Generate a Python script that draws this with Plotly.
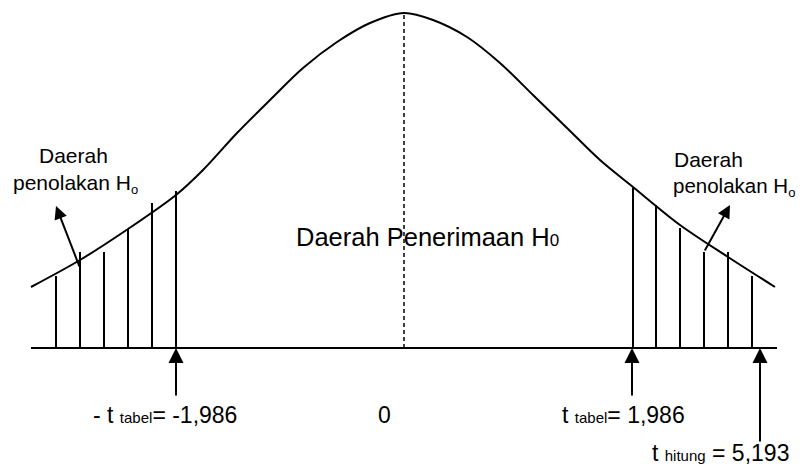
import plotly.graph_objects as go

# kurva distribusi (posisi horizontal relatif terhadap pusat, tinggi kurva)
curve_x = [-373, -324, -276, -228, -201, -167, -134, -101, -67, -34, 0,
           29, 63, 96, 129, 163, 196, 229, 276, 324, 371]
curve_h = [61, 88, 119, 153, 178, 215, 248, 280, 306, 325, 335,
           328, 311, 285, 253, 220, 188, 161, 123, 91, 61]

# garis arsir daerah penolakan
hatch_left_x = [-348, -324, -300, -276, -252, -228]
hatch_left_top = [72, 96, 96, 119, 145, 157]
hatch_right_x = [229, 252, 276, 300, 324, 348]
hatch_right_top = [160, 143, 120, 96, 96, 72]

# titik kritis dan nilai hitung
t_tabel_neg = -228
t_tabel_pos = 228
t_hitung = 356
t_labels = ["- t <span style='font-size:15px'>tabel</span>= -1,986",
            "0",
            "t <span style='font-size:15px'>tabel</span>= 1,986",
            "t <span style='font-size:15px'>hitung</span> = 5,193"]
reject_label = "penolakan H<sub><span style='font-size:13px'>o</span></sub>"

FONT = "Arial, Liberation Sans, sans-serif"

fig = go.Figure()

# kurva
fig.add_trace(go.Scatter(
    x=curve_x, y=curve_h, mode="lines", line_shape="spline",
    line=dict(color="black", width=2, smoothing=0.9), hoverinfo="skip"
))

# arsir
hx, hy = [], []
for xs, tops in [(hatch_left_x, hatch_left_top), (hatch_right_x, hatch_right_top)]:
    for x, top in zip(xs, tops):
        hx += [x, x, None]
        hy += [0, top, None]
fig.add_trace(go.Scatter(
    x=hx, y=hy, mode="lines", line=dict(color="black", width=2), hoverinfo="skip"
))

# sumbu dasar
fig.add_trace(go.Scatter(
    x=[curve_x[0], curve_x[-1] + 2], y=[0, 0], mode="lines",
    line=dict(color="black", width=2), hoverinfo="skip"
))

# garis tengah putus-putus
fig.add_trace(go.Scatter(
    x=[0, 0], y=[0, max(curve_h)], mode="lines",
    line=dict(color="black", width=1.5, dash="4px,3px"), hoverinfo="skip"
))

# panah titik kritis
for x, tail in [(t_tabel_neg, -49), (t_tabel_pos, -49), (t_hitung, -95)]:
    fig.add_annotation(
        x=x, y=0, ax=x, ay=tail, axref="x", ayref="y", text="",
        showarrow=True, arrowhead=2, arrowsize=1.5, arrowwidth=2,
        arrowcolor="black", standoff=0
    )

# panah daerah penolakan
for (x, y, ax, ay) in [(-348, 142, -324, 80), (326, 143, 300, 96)]:
    fig.add_annotation(
        x=x, y=y, ax=ax, ay=ay, axref="x", ayref="y", text="",
        showarrow=True, arrowhead=2, arrowsize=1.3, arrowwidth=2,
        arrowcolor="black", standoff=0
    )

# teks
def label(x, y, text, size, xanchor="center"):
    fig.add_annotation(
        x=x, y=y, text=text, showarrow=False, xanchor=xanchor, yanchor="middle",
        font=dict(family=FONT, size=size, color="black")
    )

label(-331, 193, "Daerah", 21)
label(-329, 164, reject_label, 21)
label(268, 189, "Daerah", 21, xanchor="left")
label(267, 161, reject_label, 20.5, xanchor="left")
label(23, 111, "Daerah Penerimaan H<span style='font-size:17px'>0</span>", 25.5)

label(-239, -67, t_labels[0], 23)
label(-20, -67, t_labels[1], 23)
label(219, -67, t_labels[2], 23)
label(316, -105, t_labels[3], 23)

# halaman HTML memberi margin 8px, jadi rentang digeser agar posisi sesuai
fig.update_layout(
    width=805, height=470,
    margin=dict(l=0, r=0, t=0, b=0),
    showlegend=False,
    plot_bgcolor="white", paper_bgcolor="white",
    xaxis=dict(range=[-396, 409], visible=False, fixedrange=True),
    yaxis=dict(range=[-130, 340], visible=False, fixedrange=True),
)

fig.write_html("out.html")
